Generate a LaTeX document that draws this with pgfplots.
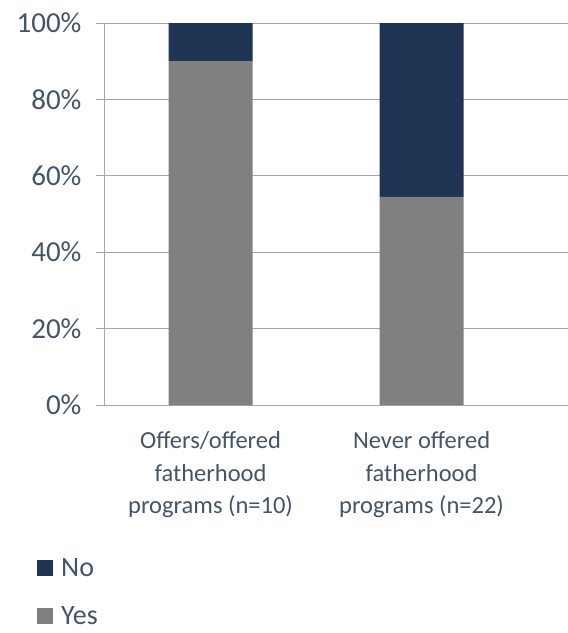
\documentclass[border=0pt]{standalone}
\usepackage{pgfplots}
\pgfplotsset{compat=1.18}
\usepackage{fontspec}
\setmainfont{Carlito}
\definecolor{navy}{HTML}{1F3352}
\definecolor{barg}{HTML}{808080}
\definecolor{txt}{HTML}{44546A}
\definecolor{gridc}{HTML}{A6A6A6}
\begin{document}
\begin{tikzpicture}[x=1pt,y=1pt]
\useasboundingbox (0,0) rectangle (568,633);
\begin{axis}[
  at={(105pt,228pt)}, anchor=south west,
  scale only axis, width=463pt, height=382pt,
  ybar stacked, bar width=84pt,
  xmin=-0.5, xmax=1.694, ymin=0, ymax=100,
  axis x line*=bottom, axis y line*=left,
  axis line style={gridc, line width=1pt, -},
  ytick={0,20,...,100},
  yticklabel={\pgfmathprintnumber{\tick}\%},
  /pgf/number format/assume math mode=true,
  ymajorgrids, grid style={gridc, line width=1pt},
  ytick style={gridc, line width=1pt},
  tick align=outside, major tick length=9pt,
  yticklabel style={font=\fontsize{29}{33}\selectfont, text=txt, xshift=-11pt},
  xtick={0,1},
  xticklabels={{Offers/offered\\fatherhood\\programs (n=10)},{Never offered\\fatherhood\\programs (n=22)}},
  xticklabel style={font=\fontsize{24.5}{32.5}\selectfont, text=txt, align=center, yshift=-14pt},
  xtick style={draw=none},
  extra x ticks={-0.5,0.5}, extra x tick labels={},
  extra x tick style={xtick style={gridc, line width=1pt}, major tick length=7pt},
  legend style={at={(axis description cs:-0.1469,-0.3953)}, anchor=north west, draw=none, fill=none, inner sep=0pt,
    font=\fontsize{28}{33}\selectfont, text=txt, row sep=25pt, cells={anchor=west}},
  legend cell align=left,
  reverse legend,
  legend image code/.code={\fill[#1] (0pt,-8pt) rectangle (16pt,8pt); \path (22pt,0pt);},
  clip=false,
]
\addplot[fill=barg, draw=none] coordinates {(0,90) (1,54.5)};
\addplot[fill=navy, draw=none] coordinates {(0,10) (1,45.5)};
\legend{Yes,No}
\end{axis}
\end{tikzpicture}
\end{document}
